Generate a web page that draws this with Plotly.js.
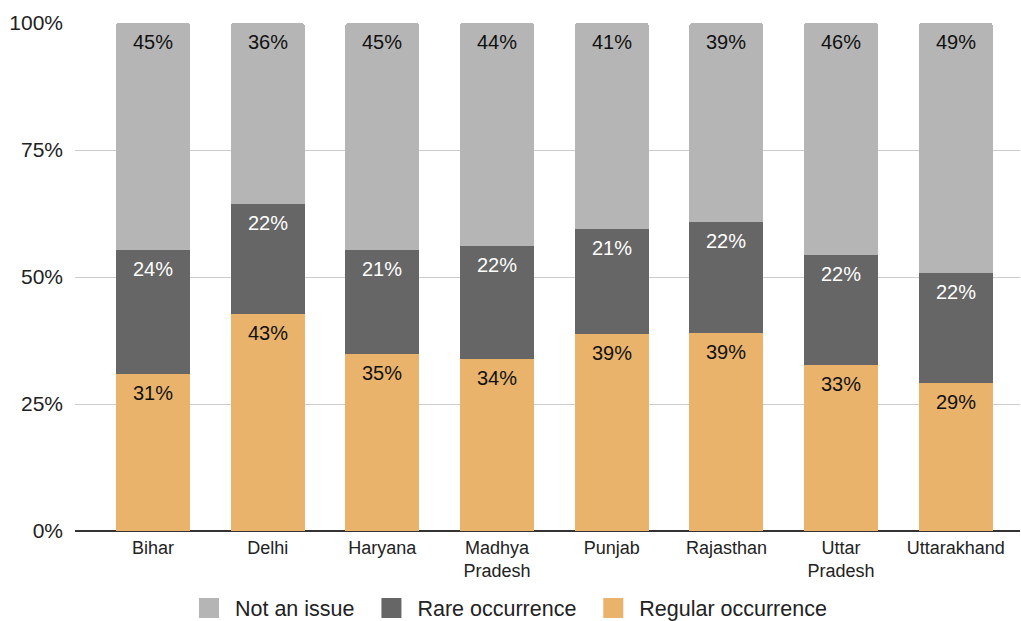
<!DOCTYPE html>
<html>
<head>
<meta charset="utf-8">
<script src="https://cdn.plot.ly/plotly-3.0.1.min.js"></script>
<style>html,body{margin:0;padding:0;background:#fff;}#chart{width:1021px;height:621px;}</style>
</head>
<body>
<div id="chart"></div>
<script>
const states = ["Bihar", "Delhi", "Haryana", "Madhya<br>Pradesh", "Punjab", "Rajasthan", "Uttar<br>Pradesh", "Uttarakhand"];
const regularOccurrence = [31.0, 42.8, 34.8, 33.9, 38.7, 38.9, 32.7, 29.2];
const rareOccurrence = [24.4, 21.6, 20.6, 22.3, 20.7, 22.0, 21.7, 21.6];
const notAnIssue = [44.6, 35.6, 44.6, 43.8, 40.6, 39.1, 45.6, 49.2];
const yTicks = [0, 25, 50, 75, 100];

const seriesNames = ["Regular occurrence", "Rare occurrence", "Not an issue"];
const seriesValues = [regularOccurrence, rareOccurrence, notAnIssue];
const seriesColors = ["#e9b36c", "#666666", "#b5b5b5"];
const labelColors = ["#111111", "#ffffff", "#111111"];
const FONT = "Arial, 'Liberation Sans', Helvetica, sans-serif";

const traces = [];
seriesValues.forEach((vals, i) => {
  traces.push({
    type: "bar", x: states, y: vals, name: seriesNames[i],
    marker: {color: seriesColors[i]}, showlegend: false, hoverinfo: "skip"
  });
});
// legend entries (order: Not an issue, Rare, Regular)
[2, 1, 0].forEach((i, n) => {
  traces.push({
    type: "scatter", mode: "markers", x: [null], y: [null],
    name: "&nbsp;" + seriesNames[i] + (n < 2 ? "&nbsp;&nbsp;" : ""),
    marker: {symbol: "square", size: 16, color: seriesColors[i], line: {color: seriesColors[i], width: 4}},
    showlegend: true, hoverinfo: "skip"
  });
});

const annotations = [];
states.forEach((s, k) => {
  let cum = 0;
  seriesValues.forEach((vals, i) => {
    cum += vals[k];
    annotations.push({
      x: s, y: cum, xref: "x", yref: "y", yanchor: "top", yshift: -6,
      text: Math.round(vals[k]) + "%", showarrow: false,
      font: {family: FONT, size: 20, color: labelColors[i]}
    });
  });
});

const layout = {
  width: 1021, height: 621,
  margin: {l: 75, r: 1, t: 23, b: 90},
  paper_bgcolor: "#ffffff", plot_bgcolor: "#ffffff",
  font: {family: FONT, color: "#222222"},
  barmode: "stack", bargap: 0.355, barcornerradius: 3,
  xaxis: {
    type: "category", range: [-0.68, 7.56], showgrid: false, zeroline: false,
    showline: false, ticks: "", tickfont: {size: 18, color: "#222"}, ticklabelstandoff: 4, fixedrange: true
  },
  yaxis: {
    range: [0, 100], tickvals: yTicks, ticktext: yTicks.map(v => v + "%"),
    showgrid: true, gridcolor: "#cccccc", gridwidth: 1,
    zeroline: true, zerolinecolor: "#333333", zerolinewidth: 1.5,
    showline: false, ticks: "", tickfont: {size: 21, color: "#222"}, ticklabelstandoff: 11, fixedrange: true
  },
  legend: {
    orientation: "h", traceorder: "normal", xref: "container", yref: "container", x: 0.5, xanchor: "center",
    y: 0.021, yanchor: "middle", font: {size: 21.5, color: "#222"}, itemclick: false
  },
  annotations: annotations,
  showlegend: true
};

Plotly.newPlot("chart", traces, layout, {displayModeBar: false, staticPlot: true});
</script>
</body>
</html>
